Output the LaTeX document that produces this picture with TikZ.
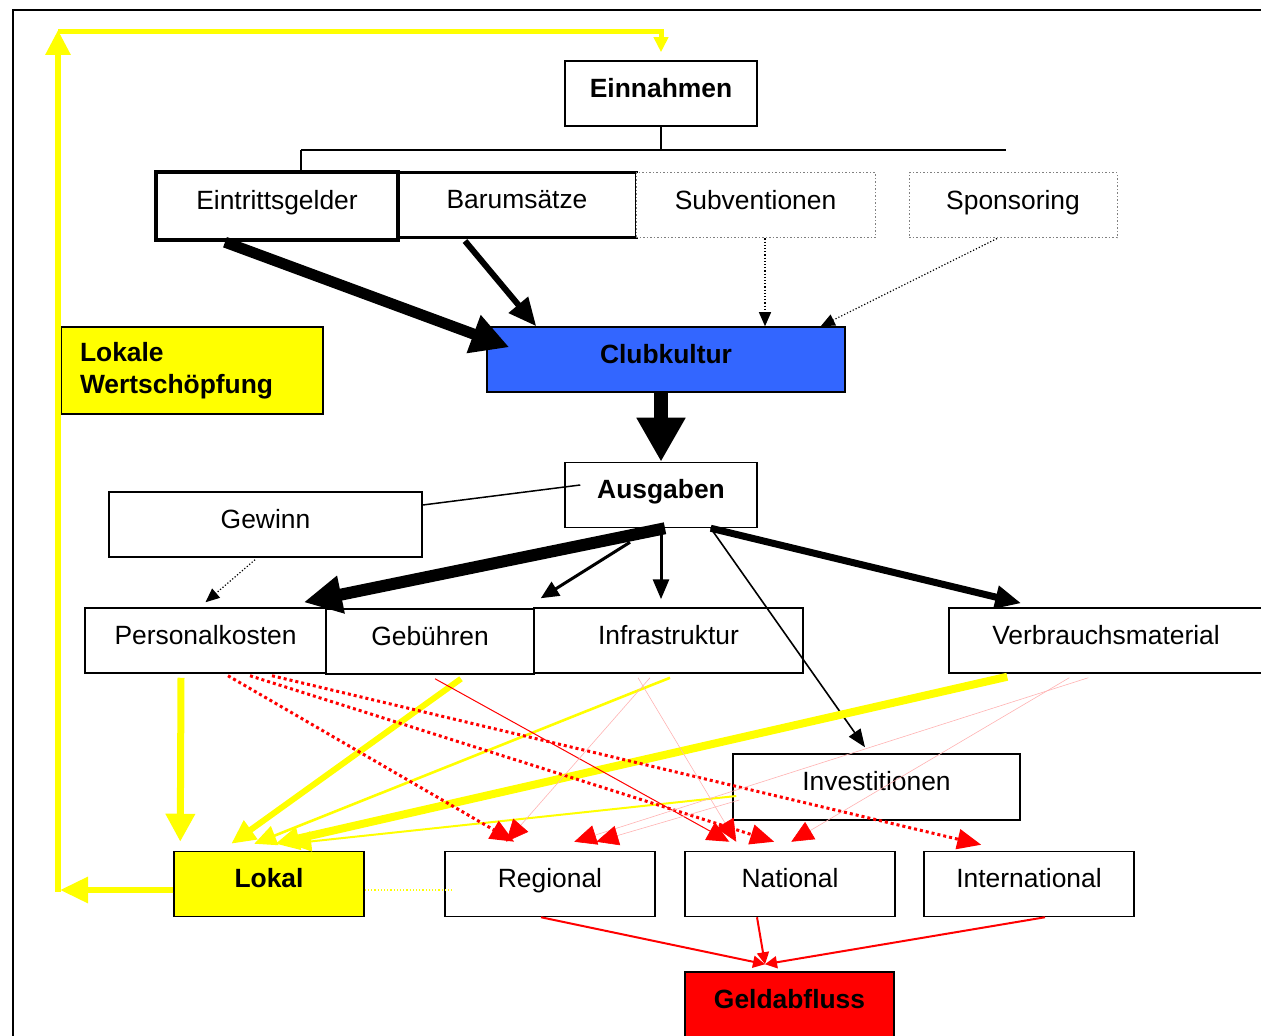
\documentclass[tikz,border=0pt]{standalone}
\usepackage{fontspec}
\setmainfont{Liberation Sans}
\usetikzlibrary{calc,arrows.meta}

\definecolor{clubblue}{RGB}{51,102,255}
\definecolor{lokgelb}{RGB}{255,255,0}

\begin{document}
\begin{tikzpicture}[x=0.5pt,y=-0.5pt,
  font=\fontsize{13.2pt}{16pt}\selectfont,
  box/.style={draw,line width=0.75pt,fill=white,inner sep=0pt,
    minimum height=32.5pt,text height=18.2pt,text depth=14.3pt},
  dotbox/.style={box,draw=gray,densely dotted,line width=0.5pt},
  tip/.style={-{Triangle[length=#1,width=#1]}},
  bigarrow/.style={line width=#1},
  ylw/.style={draw=lokgelb,line width=#1},
  rdot/.style={draw=red,line width=1.5pt,dash pattern=on 1.5pt off 1.5pt,
    -{Triangle[length=12pt,width=10pt]}},
  faint/.style={draw=red!30,line width=0.3pt,-{Triangle[length=11pt,width=10pt,color=red]}}]
\useasboundingbox (0,0) rectangle (1261,1036);

% frame
\draw[line width=1pt] (13,1036) -- (13,10) -- (1261,10);

% EINNAHMEN

\node[box,font=\fontsize{13.2pt}{16pt}\selectfont\bfseries,minimum width=96pt] (ein) at (661,93.5) {Einnahmen};

\node[box,line width=2.2pt,minimum width=121pt,minimum height=34pt] (eint) at (277,206) {Eintrittsgelder};
\node[box,line width=1.5pt,minimum width=119pt] (bar) at (517,205) {Barumsätze};
\node[dotbox,minimum width=119.5pt] (sub) at (755.5,205.5) {Subventionen};
\node[dotbox,minimum width=104pt] (spo) at (1013,205.5) {Sponsoring};

\coordinate (busL) at (301,150);
\coordinate (busR) at (1006,150);
\draw[line width=0.75pt] (busL) -- (busR);
\draw[line width=0.75pt] (ein.south) -- (ein.south |- busL);
\draw[line width=0.75pt] (busL) -- (busL |- eint.north);
\draw[line width=0.75pt] ($(bar.north)+(-24,0)$) -- ($(bar.north)+(-24,0)$ |- busL);
\draw[line width=0.75pt] ($(sub.north)+(-22.5,0)$) -- ($(sub.north)+(-22.5,0)$ |- busL);
\draw[line width=0.75pt] ($(spo.north)+(-64,0)$) -- ($(spo.north)+(-64,0)$ |- busL);

% CLUBKULTUR

\node[box,fill=clubblue,font=\fontsize{13.2pt}{16pt}\selectfont\bfseries,minimum width=179pt] (club) at (666,359.5) {Clubkultur};

\node[draw,line width=0.75pt,fill=lokgelb,inner sep=0pt,inner xsep=9.5pt,
  minimum height=43.5pt,text width=112pt,align=left,
  font=\fontsize{13.2pt}{16pt}\selectfont\bfseries] (lws) at (192,370.5) {Lokale\\Wertschöpfung};

\draw[bigarrow=5.5pt,tip=19pt] ($(eint.south)+(-52,0)$) -- ($(club.north west)+(23,21)$);
\draw[bigarrow=3pt,-{Triangle[length=14pt,width=12pt]}] ($(bar.south)+(-52,2)$) -- ($(club.north west)+(50,0)$);
\draw[line width=0.6pt,densely dotted,-{Triangle[length=7pt,width=6pt]}] ($(sub.south)+(9.5,0)$) -- ($(club.north)+(99,0)$);
\draw[line width=0.6pt,densely dotted,-{Triangle[length=7pt,width=6pt]}] ($(spo.south)+(-16,0)$) -- ($(club.north east)+(-25,0)$);

% AUSGABEN

\node[box,font=\fontsize{13.2pt}{16pt}\selectfont\bfseries,minimum width=96pt] (aus) at (661,495) {Ausgaben};
\node[box,minimum width=156.5pt,minimum height=31.5pt] (gew) at (265.5,524.5) {Gewinn};

\draw[bigarrow=7pt,-{Triangle[length=22pt,width=23pt]}] (aus.north |- club.south) -- (aus.north);
\draw[line width=0.75pt] ($(gew.east)+(0,-19.5)$) -- ($(aus.west)+(16,-10)$);

% LEVEL 2

\node[box,minimum width=120.5pt] (pers) at (205.5,640.5) {Personalkosten};
\node[box,minimum width=104pt,minimum height=31.5pt] (geb) at (430,641.5) {Gebühren};
\node[box,minimum width=134.5pt] (inf) at (668.5,640.5) {Infrastruktur};
\node[box,minimum width=157pt] (ver) at (1106,640.5) {Verbrauchsmaterial};
\node[box,minimum width=143.5pt,minimum height=33pt] (inv) at (876.5,787) {Investitionen};

\draw[bigarrow=6pt,-{Triangle[length=19pt,width=18pt]}] ($(aus.south)+(4,0)$) -- ($(pers.north east)+(-23,-5)$);
\draw[bigarrow=1.5pt,-{Triangle[length=9pt,width=8pt]}] ($(aus.south)+(-31,14)$) -- ($(geb.north east)+(6,-10)$);
\draw[bigarrow=1.5pt,-{Triangle[length=10pt,width=8pt]}] (aus.south) -- ($(inf.north)+(-7.5,-8)$);
\draw[bigarrow=3.5pt,-{Triangle[length=13pt,width=11pt]}] ($(aus.south east)+(-47,0)$) -- ($(ver.north west)+(73,-4)$);
\draw[bigarrow=0.8pt,-{Triangle[length=9pt,width=7pt]}] ($(aus.south east)+(-47,0)$) -- ($(inv.north)+(-11.5,-6)$);
\draw[line width=0.6pt,densely dotted,-{Triangle[length=7pt,width=6pt]}] ($(gew.south)+(-10.5,2)$) -- ($(pers.north)+(0,-5)$);

% LEVEL 3

\node[box,fill=lokgelb,font=\fontsize{13.2pt}{16pt}\selectfont\bfseries,minimum width=95pt] (lok) at (269,884) {Lokal};
\node[box,minimum width=105pt] (reg) at (550,884) {Regional};
\node[box,minimum width=105pt] (nat) at (790,884) {National};
\node[box,minimum width=105pt] (int) at (1029,884) {International};
\node[box,fill=red,font=\fontsize{13.2pt}{16pt}\selectfont\bfseries,minimum width=104.5pt] (geld) at (789.5,1004.5) {Geldabfluss};

% lokal
\draw[ylw=3.5pt,-{Triangle[length=14pt,width=14pt]}] ($(pers.south)+(-24.5,4)$) -- ($(lok.north west)+(7,-9)$);
\draw[ylw=3pt,-{Triangle[length=12pt,width=11pt]}] ($(geb.south)+(31,4)$) -- ($(lok.north west)+(58,-7)$);
\draw[ylw=1.3pt,-{Triangle[length=11pt,width=10pt]}] ($(inf.south)+(1.5,4)$) -- ($(lok.north west)+(81,-7)$);
\draw[ylw=4pt,-{Triangle[length=12pt,width=11pt]}] ($(ver.south west)+(59,3)$) -- ($(lok.north west)+(102,-7)$);
\draw[ylw=1pt,-{Triangle[length=11pt,width=10pt]}] ($(inv.west)+(4,9)$) -- ($(lok.north west)+(116,-7)$);
\draw[ylw=0.6pt,densely dotted] ($(lok.east)+(0,6)$) -- ($(reg.west)+(10,6)$);

\coordinate (lw) at (58,890);
\coordinate (ltop) at (58,30);
\draw[ylw=3pt,-{Triangle[length=14pt,width=12.5pt]}] ($(lok.west)+(0,6)$) -- ($(lw)+(2,0)$);
\draw[ylw=3pt,-{Triangle[length=12.5pt,width=12pt]}] ($(lw)+(0,1.5)$) -- (ltop);
\draw[ylw=2.5pt,-{Triangle[length=7.5pt,width=7pt]}] ($(ltop)+(0,2)$) -| ($(ein.north)+(0,-8)$);

% abfluss
\draw[rdot] ($(pers.south)+(22.5,2)$) -- ($(reg.north west)+(70,-9)$);
\draw[rdot] ($(pers.south)+(44.5,2)$) -- ($(nat.north west)+(90,-9)$);
\draw[rdot] ($(pers.south)+(66.5,2)$) -- ($(int.north west)+(58,-6)$);
\draw[draw=red,line width=0.5pt,-{Triangle[length=11pt,width=10pt]}] ($(geb.south)+(5,4)$) -- ($(nat.north west)+(45,-9)$);
\draw[faint] ($(inf.south)+(-18.5,4)$) -- ($(reg.north west)+(62,-9)$);
\draw[faint] ($(inf.south)+(-30.5,4)$) -- ($(nat.north west)+(52,-9)$);
\draw[faint] ($(ver.south west)+(140,4)$) -- ($(reg.north west)+(130,-9)$);
\draw[faint] ($(inv.west)+(7,13)$) -- ($(reg.north west)+(152,-9)$);
\draw[faint] ($(ver.south west)+(121,4)$) -- ($(nat.north west)+(107,-9)$);

\draw[draw=red,line width=1pt,-{Triangle[length=6pt,width=6pt]}] ($(reg.south)+(-9,0)$) -- ($(geld.north)+(-24.5,-7)$);
\draw[draw=red,line width=1pt,-{Triangle[length=6pt,width=6pt]}] ($(nat.south)+(-33,0)$) -- ($(geld.north)+(-24.5,-7)$);
\draw[draw=red,line width=1pt,-{Triangle[length=6pt,width=6pt]}] ($(int.south)+(16,0)$) -- ($(geld.north)+(-24.5,-7)$);

\end{tikzpicture}
\end{document}
